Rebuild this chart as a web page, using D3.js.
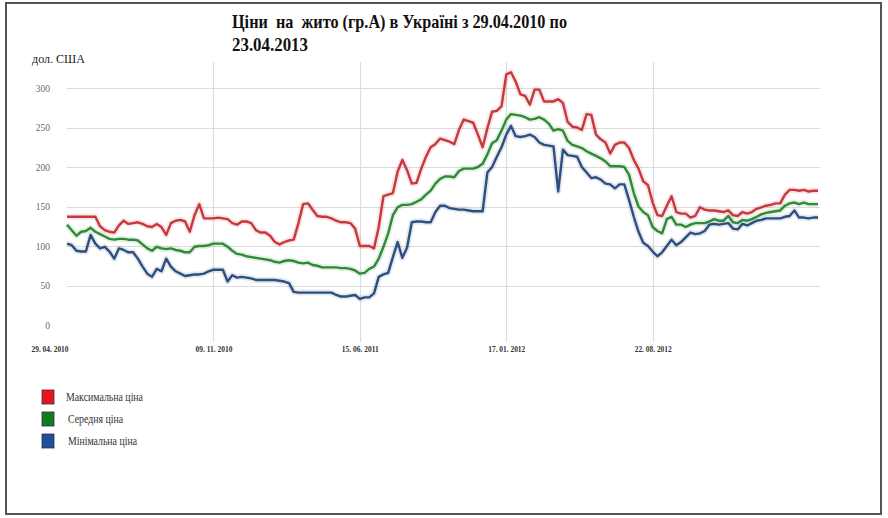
<!DOCTYPE html>
<html>
<head>
<meta charset="utf-8">
<script src="https://cdn.jsdelivr.net/npm/d3@7"></script>
<style>
  body { margin: 0; background: #fff; }
  svg { display: block; }
  svg text { font-family: "Liberation Serif", "DejaVu Serif", "Times New Roman", serif; }
</style>
</head>
<body>
<svg id="chart" width="888" height="518"></svg>
<script>
// Rye (group A) prices in Ukraine, USD per tonne, weekly observations
const titleLines = ["Ціни  на  жито (гр.А) в Україні з 29.04.2010 по", "23.04.2013"];
const unitLabel = "дол. США";
const tickLabels = ["29. 04. 2010", "09. 11. 2010", "15. 06. 2011", "17. 01. 2012", "22. 08. 2012"];
const tickEvery = 31;
const yTicks = [0, 50, 100, 150, 200, 250, 300];
const seriesNames = ["Максимальна ціна", "Середня ціна", "Мінімальна ціна"];

const maxPrice = [
  137,137,137,137,137,137,137,125,120,118,
  117,126,132,128,129,130,128,125,124,128,
  124,114,129,132,133,131,118,139,153,135,
  135,135,136,135,134,129,127,131,131,129,
  120,117,117,113,105,102,105,107,108,129,
  153,154,146,138,137,137,135,132,130,130,
  129,122,100,100,100,97,124,163,165,167,
  194,209,196,179,180,198,213,225,229,236,
  234,232,229,247,260,258,256,241,225,249,
  270,271,277,317,320,308,292,290,279,298,
  298,283,283,283,286,281,257,251,250,247,
  267,266,241,235,231,217,228,231,231,224,
  209,198,182,177,155,139,138,151,163,143,
  141,141,136,138,149,146,145,145,144,143,
  145,139,138,143,141,143,147,149,151,152,
  154,154,165,171,171,170,171,169,170,170
];

const avgPrice = [
  127,120,113,118,119,123,118,115,112,109,
  108,109,109,108,108,107,102,97,94,99,
  97,96,97,95,94,92,92,99,100,100,
  101,103,103,103,99,94,90,89,87,86,
  85,84,83,82,80,79,81,82,81,79,
  78,79,76,75,73,73,73,73,72,72,
  71,69,65,66,71,74,84,99,116,139,
  149,152,152,153,156,159,165,170,179,185,
  188,188,187,195,198,198,198,200,204,216,
  230,234,246,260,267,266,265,263,260,261,
  263,260,255,246,248,246,233,228,226,224,
  220,217,214,211,207,201,201,201,200,190,
  167,150,143,139,124,119,116,134,137,127,
  127,124,127,129,129,129,131,134,132,132,
  138,130,129,133,132,134,137,140,142,143,
  144,145,151,154,155,153,155,153,153,153
];

const minPrice = [
  103,101,94,93,93,114,103,97,99,93,
  84,97,95,92,92,84,74,65,61,71,
  68,84,74,68,65,62,63,64,64,65,
  68,70,70,70,55,63,60,61,60,59,
  57,57,57,57,57,56,55,53,42,41,
  41,41,41,41,41,41,41,38,36,36,
  37,38,33,35,35,40,61,64,66,86,
  105,85,98,130,131,131,130,130,143,151,
  151,148,147,146,146,145,144,144,144,193,
  200,213,225,241,252,239,238,239,241,238,
  231,228,227,226,169,222,215,214,213,200,
  193,186,187,184,179,178,173,178,178,158,
  137,118,104,100,93,87,92,100,108,101,
  105,111,117,115,116,119,127,128,127,128,
  129,122,121,128,126,129,132,133,135,135,
  135,135,137,138,145,136,136,135,136,136
];

const lineColors = ["#c8373c", "#2f8a36", "#2c4f7f"];
const legendColors = ["#e8161c", "#107a24", "#1f4f9c"];

const svg = d3.select("#chart");

// Outer frame
svg.append("rect")
  .attr("x", 6).attr("y", 3).attr("width", 875).attr("height", 511)
  .attr("fill", "none").attr("stroke", "#555").attr("stroke-width", 2);

const n = maxPrice.length;
const x = d3.scaleLinear().domain([0, n - 1]).range([67, 818]);
const y = d3.scaleLinear().domain([0, 300]).range([325, 88]);

const tickIdx = tickLabels.map((_, i) => i * tickEvery);

// Horizontal grid
svg.append("g")
  .selectAll("line")
  .data(yTicks.filter(v => v > 0))
  .join("line")
  .attr("x1", 67).attr("x2", 820)
  .attr("y1", d => Math.round(y(d)) + 0.5).attr("y2", d => Math.round(y(d)) + 0.5)
  .attr("stroke", "#dcdcdc").attr("stroke-width", 1.2);

// Vertical grid
svg.append("g")
  .selectAll("line")
  .data(tickIdx.slice(1))
  .join("line")
  .attr("x1", d => Math.round(x(d)) + 0.5).attr("x2", d => Math.round(x(d)) + 0.5)
  .attr("y1", 62).attr("y2", 342)
  .attr("stroke", "#dcdcdc").attr("stroke-width", 1.2);

// Y axis labels
const yAxis = svg.append("g")
  .attr("transform", "translate(67,0)")
  .call(d3.axisLeft(y).tickValues(yTicks).tickSize(0).tickPadding(17));
yAxis.select(".domain").remove();
yAxis.attr("font-family", null);
yAxis.selectAll("text")
  .attr("font-size", 9.5)
  .attr("fill", "#6a6a6a");

// X axis labels
const xAxis = svg.append("g")
  .attr("transform", "translate(0,342)")
  .call(d3.axisBottom(x).tickValues(tickIdx).tickFormat((d, i) => tickLabels[i]).tickSize(0).tickPadding(0));
xAxis.select(".domain").remove();
xAxis.attr("font-family", null);
xAxis.selectAll("text")
  .attr("dy", "1.15em")
  .attr("font-size", 9)
  .attr("font-weight", "bold")
  .attr("fill", "#333")
  .attr("textLength", 37)
  .attr("lengthAdjust", "spacingAndGlyphs");
xAxis.selectAll(".tick").filter((d, i) => i === 0).select("text")
  .attr("text-anchor", "end").attr("dx", 1);

// Series lines
const series = [maxPrice, avgPrice, minPrice];
const line = d3.line().x((d, i) => x(i)).y(d => y(d));
const lines = svg.append("g");
series.forEach((vals, k) => {
  lines.append("path")
    .attr("d", line(vals))
    .attr("fill", "none")
    .attr("stroke", lineColors[k])
    .attr("stroke-width", 6)
    .attr("stroke-opacity", 0.13)
    .attr("stroke-linejoin", "round");
  lines.append("path")
    .attr("d", line(vals))
    .attr("fill", "none")
    .attr("stroke", lineColors[k])
    .attr("stroke-width", 2.4)
    .attr("stroke-linejoin", "round");
});

// Title
svg.append("g").selectAll("text")
  .data(titleLines)
  .join("text")
  .attr("x", 232)
  .attr("y", (d, i) => 28 + i * 23)
  .attr("font-weight", "bold")
  .attr("font-size", 19)
  .attr("fill", "#111")
  .style("white-space", "pre")
  .attr("textLength", (d, i) => i === 0 ? 335 : 76)
  .attr("lengthAdjust", "spacingAndGlyphs")
  .text(d => d);

// Unit label
svg.append("text")
  .attr("x", 32).attr("y", 63)
  .attr("font-size", 13)
  .attr("fill", "#222")
  .attr("textLength", 53)
  .attr("lengthAdjust", "spacingAndGlyphs")
  .text(unitLabel);

// Legend
const legendWidths = [77, 55, 69];
const legend = svg.append("g").selectAll("g")
  .data(seriesNames)
  .join("g")
  .attr("transform", (d, i) => `translate(42,${390 + i * 22})`);
legend.append("rect")
  .attr("width", 12).attr("height", 14)
  .attr("fill", (d, i) => legendColors[i])
  .attr("stroke", "#333").attr("stroke-width", 0.8);
legend.append("text")
  .attr("x", (d, i) => i === 0 ? 24 : 26).attr("y", 11)
  .attr("font-size", 12.5)
  .attr("fill", "#333")
  .attr("textLength", (d, i) => legendWidths[i])
  .attr("lengthAdjust", "spacingAndGlyphs")
  .text(d => d);
</script>
</body>
</html>
